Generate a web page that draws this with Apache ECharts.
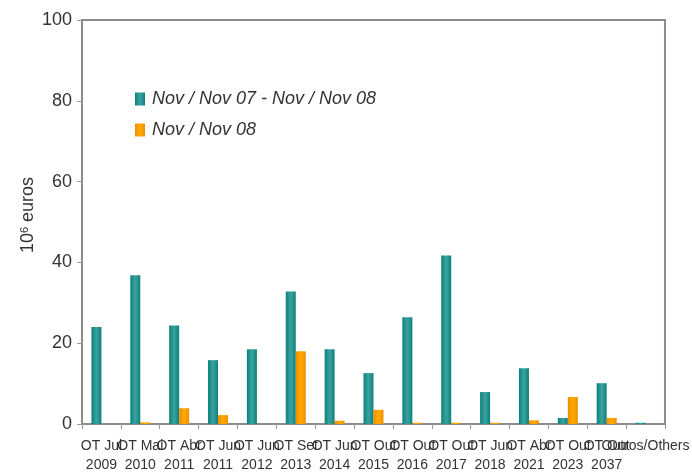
<!DOCTYPE html>
<html>
<head>
<meta charset="utf-8">
<script src="https://cdn.jsdelivr.net/npm/echarts@6/dist/echarts.min.js"></script>
<style>html,body{margin:0;padding:0;background:#fff}#c{width:692px;height:475px}</style>
</head>
<body>
<div id="c"></div>
<script>
const categories = ["OT Jul\n2009","OT Mai\n2010","OT Abr\n2011","OT Jun\n2011","OT Jun\n2012","OT Set\n2013","OT Jun\n2014","OT Out\n2015","OT Out\n2016","OT Out\n2017","OT Jun\n2018","OT Abr\n2021","OT Out\n2023","OT Out\n2037","Outros/Others"];
const seriesNames = ["Nov / Nov 07 - Nov / Nov 08", "Nov / Nov 08"];
const tealValues = [24.0, 36.8, 24.4, 15.8, 18.5, 32.8, 18.5, 12.6, 26.4, 41.7, 7.9, 13.8, 1.5, 10.1, 0.3];
const orangeValues = [null, 0.4, 3.9, 2.2, null, 18.0, 0.8, 3.5, 0.3, 0.3, 0.3, 0.9, 6.7, 1.5, null];
const yTicks = [0, 20, 40, 60, 80, 100];

function grad(edge, mid) {
  return new echarts.graphic.LinearGradient(0, 0, 1, 0, [
    {offset: 0, color: edge}, {offset: 0.45, color: mid}, {offset: 0.55, color: mid}, {offset: 1, color: edge}
  ]);
}
const chart = echarts.init(document.getElementById('c'), null, {renderer: 'canvas'});
chart.setOption({
  animation: false,
  backgroundColor: '#fff',
  textStyle: {fontFamily: 'Liberation Sans, Arial, sans-serif'},
  grid: {left: 82, right: 12, top: 20, bottom: 50, show: true, borderColor: '#8c8c8c', borderWidth: 2, containLabel: false},
  legend: {
    orient: 'vertical', left: 135, top: 90, padding: 0, itemWidth: 10, itemHeight: 13, itemGap: 13,
    icon: 'rect',
    textStyle: {fontSize: 18, fontStyle: 'italic', color: '#333', lineHeight: 18, padding: [0, 0, 0, 2], fontFamily: 'Liberation Sans, Arial, sans-serif'},
    data: seriesNames
  },
  xAxis: {
    type: 'category', data: categories,
    axisLine: {lineStyle: {color: '#8c8c8c', width: 2}},
    axisTick: {show: true, length: 5, lineStyle: {color: '#999'}},
    axisLabel: {interval: 0, fontSize: 14, color: '#333', lineHeight: 19, margin: 13, hideOverlap: false}
  },
  yAxis: {
    type: 'value', min: yTicks[0], max: yTicks[yTicks.length - 1], interval: 20,
    splitLine: {show: false},
    axisLine: {show: true, lineStyle: {color: '#8c8c8c', width: 2}},
    axisTick: {show: true, length: 5, lineStyle: {color: '#999'}},
    axisLabel: {fontSize: 18, color: '#333', margin: 10},
    name: '{a|10}{s|6}{a| euros}',
    nameLocation: 'middle', nameRotate: 90, nameGap: 44, nameMoveOverlap: false,
    nameTextStyle: {padding: [0, 0, 0, 14], rich: {a: {fontSize: 18, color: '#333'}, s: {fontSize: 11, color: '#333', verticalAlign: 'top', padding: [0,0,8,0]}}}
  },
  series: [
    {name: seriesNames[0], type: 'bar', data: tealValues, barWidth: 10, barGap: '0%',
     itemStyle: {color: grad('#0d807c', '#35a09c')}},
    {name: seriesNames[1], type: 'bar', data: orangeValues, barWidth: 10, barGap: '0%',
     itemStyle: {color: grad('#ee8e00', '#ffa800')}}
  ]
});
</script>
</body>
</html>
